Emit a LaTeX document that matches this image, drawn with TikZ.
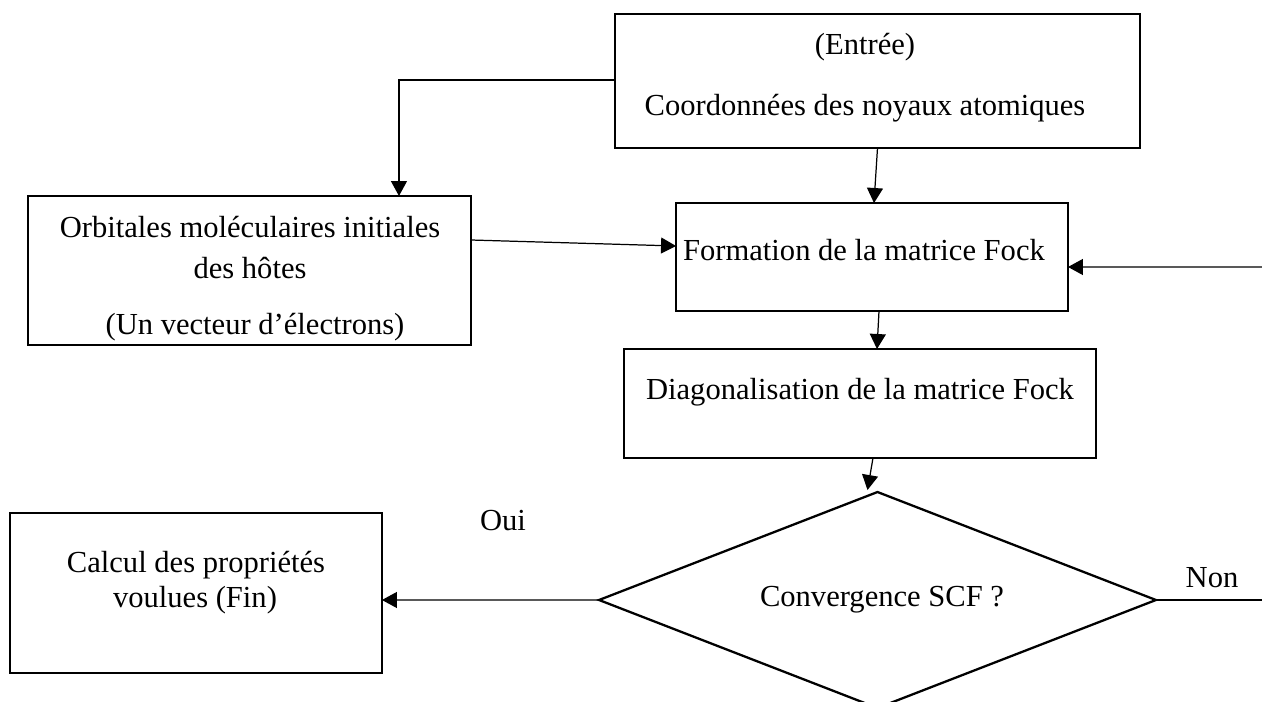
\documentclass[tikz,border=0pt]{standalone}
\usepackage{fontspec}
\setmainfont{Liberation Serif}
\usetikzlibrary{arrows.meta,calc,shapes.geometric}
\begin{document}
\begin{tikzpicture}[x=0.02cm,y=-0.02cm,
  every node/.style={font=\fontsize{17.4}{21}\selectfont},
  boxnode/.style={draw,line width=1.3pt,inner sep=0pt,outer sep=0pt},
  txt/.style={inner sep=0pt},
  conn/.style={line width=0.7pt,-{Triangle[length=0.3cm,width=0.32cm]}},
  plain/.style={line width=0.7pt}]
\useasboundingbox (0,0) rectangle (1262,702);
% boxes
\node[boxnode,minimum width=10.5cm,minimum height=2.68cm] (top) at (877.5,81) {};
\node[boxnode,minimum width=8.86cm,minimum height=2.98cm] (orb) at (249.5,270.5) {};
\node[boxnode,minimum width=7.84cm,minimum height=2.16cm] (form) at (872,257) {};
\node[boxnode,minimum width=9.44cm,minimum height=2.18cm] (diag) at (860,403.5) {};
\node[boxnode,minimum width=7.44cm,minimum height=3.2cm] (calc) at (196,593) {};
\node[boxnode,diamond,aspect=2.58,minimum width=11.14cm,minimum height=4.32cm] (conv) at (877.5,600) {};
% texts
\node[txt] (t1) at (865,47) {(Entrée)};
\node[txt] (t2) at (865,108) {Coordonnées des noyaux atomiques};
\node[txt] (o1) at (250,227) {Orbitales moléculaires initiales};
\node[txt] (o2) at (250,268) {des hôtes};
\node[txt] (o3) at (255,327) {(Un vecteur d’électrons)};
\node[txt] (f1) at (864,250) {Formation de la matrice Fock};
\node[txt] (d1) at (860,392) {Diagonalisation de la matrice Fock};
\node[txt] (c1) at (882,600) {Convergence SCF ?};
\node[txt] (k1) at (196,565) {Calcul des propriétés};
\node[txt] (k2) at (195,600) {voulues (Fin)};
\node[txt] (oui) at (503,521) {Oui};
\node[txt] (non) at (1212,578) {Non};
% free ends
\coordinate (rin) at (1262,267);
\coordinate (rout) at (1262,600);
% connectors
\draw[conn] ([yshift=0.02cm]top.west) -| ([xshift=7.42cm]orb.north west);
\draw[conn] ([xshift=0cm]top.south) -- ([xshift=0.04cm]form.north);
\draw[conn] ([yshift=0.61cm]orb.east) -- ([yshift=0.22cm]form.west);
\draw[conn] (rin) -- ([yshift=-0.2cm]form.east);
\draw[conn] ([xshift=0.14cm]form.south) -- ([xshift=0.34cm]diag.north);
\draw[conn] ([xshift=0.26cm]diag.south) -- ([xshift=-0.2cm,yshift=0.04cm]conv.north);
\draw[conn] (conv.west) -- ([yshift=-0.14cm]calc.east);
\draw[plain] (conv.east) -- (rout);
\end{tikzpicture}
\end{document}
